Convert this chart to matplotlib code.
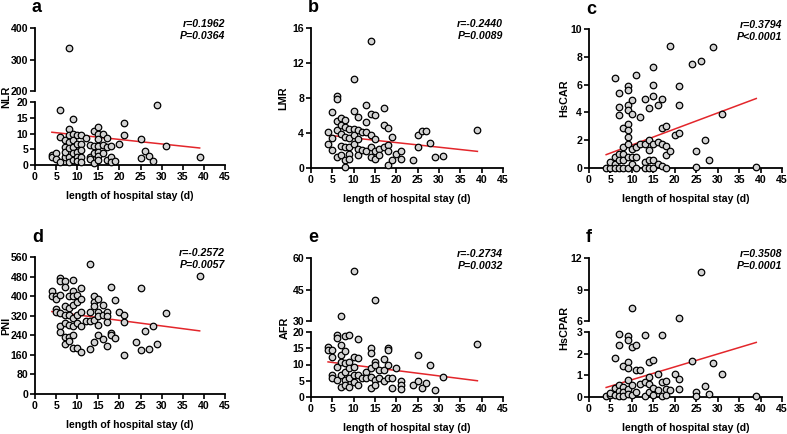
"""
Length of hospital stay vs inflammatory/nutritional indices (6 panels, GraphPad-like)
"""
import matplotlib

matplotlib.use('Agg')
import matplotlib.pyplot as plt

plt.rcParams['font.family'] = ['Liberation Sans', 'DejaVu Sans']
plt.rcParams['font.weight'] = 'bold'

W, H = 787, 434
DOT = '#d3d3d3'
RED = '#e3262b'
XTICKS = [0, 5, 10, 15, 20, 25, 30, 35, 40, 45]
XLABEL = 'length of hospital stay (d)'

# ---- data: (length of stay, index value) ----
NLR = [(4, 3.2), (4, 2.6), (5, 3.7), (5, 1.8), (6, 17.6), (6, 9), (6, 1), (7, 2.6), (7, 5.8), (7, 8),
       (7, 4.2), (8, 11.5), (8, 9.5), (8, 7.4), (8, 5.3), (8, 2.6), (8, 1), (8, 337), (9, 14.5), (9, 10),
       (9, 8), (9, 5.8), (9, 3.7), (9, 1.6), (10, 9.5), (10, 6.8), (10, 4.2), (10, 2.6), (10, 1.4),
       (11, 9.5), (11, 6.8), (11, 4.7), (11, 2.6), (11, 1), (12, 8.7), (13, 6.3), (13, 2.6), (13, 1.8),
       (14, 10.8), (14, 6), (14, 3.7), (14, 0.7), (15, 12.1), (15, 10), (15, 8.4), (15, 6), (15, 4.2),
       (15, 2.8), (15, 1.6), (16, 9.8), (16, 6.3), (16, 3.7), (17, 8.7), (17, 5.8), (17, 1.6), (18, 6),
       (18, 2.6), (18, 1), (19, 1.4), (20, 6.8), (21, 13.2), (21, 9.5), (25, 8.1), (25, 2.1), (26, 4.5),
       (27, 2.8), (28, 1.3), (29, 19.2), (31, 6), (39, 2.6)]
LMR = [(4, 4.1), (4, 2.7), (5, 6.4), (5, 3.4), (5, 2.1), (6, 8.2), (6, 7.9), (6, 5.4), (6, 4.3), (6, 1.3),
       (7, 5.7), (7, 4.9), (7, 3.9), (7, 2.5), (7, 1.5), (8, 5.5), (8, 4.7), (8, 3.6), (8, 2.4), (8, 0.9),
       (8, 0.1), (9, 4.5), (9, 3.4), (9, 2.4), (9, 1.6), (9, 1.0), (10, 10.2), (10, 6.5), (10, 4.5),
       (10, 3.8), (10, 2.8), (11, 5.8), (11, 4.3), (11, 3.3), (11, 2.2), (11, 1.5), (12, 4.1), (12, 2.1),
       (13, 7.2), (13, 5.3), (13, 4.1), (13, 2.0), (14, 14.5), (14, 6.2), (14, 3.8), (14, 2.4), (14, 1.3),
       (15, 6.1), (15, 3.3), (15, 2.0), (15, 1.0), (16, 2.2), (16, 1.5), (17, 6.9), (17, 4.9), (17, 2.4),
       (18, 4.6), (18, 2.6), (18, 2.0), (18, 0.4), (19, 3.6), (19, 0.9), (20, 1.6), (21, 2.0), (21, 1.0),
       (24, 0.9), (25, 3.8), (25, 2.4), (26, 4.2), (27, 4.2), (28, 2.9), (29, 1.3), (31, 1.4), (39, 4.3)]
HSCAR = [(4, 0), (5, 0), (5, 0.4), (6, 6.5), (6, 0.8), (6, 0.3), (6, 0), (7, 5.4), (7, 4.4), (7, 3.8),
         (7, 1.0), (7, 0.55), (7, 0), (8, 2.85), (8, 1.5), (8, 1.0), (8, 0.55), (8, 0), (9, 5.9), (9, 5.6),
         (9, 4.5), (9, 4.2), (9, 3.2), (9, 2.7), (9, 2.2), (9, 1.75), (9, 0.8), (9, 0), (10, 4.9), (10, 3.9),
         (10, 1.4), (10, 0.8), (10, 0.3), (11, 6.7), (11, 1.5), (11, 0.8), (11, 0), (12, 3.7), (12, 1.7),
         (13, 5.0), (13, 1.7), (13, 0.4), (13, 0), (14, 4.3), (14, 2.0), (14, 1.3), (14, 0.55), (14, 0),
         (15, 7.3), (15, 6.0), (15, 5.2), (15, 1.7), (15, 0.6), (15, 0), (16, 4.5), (16, 1.9), (16, 0.3),
         (17, 5.0), (17, 2.9), (17, 1.7), (17, 0.15), (18, 3.0), (18, 1.6), (18, 0.9), (18, 0), (19, 8.8),
         (19, 1.2), (20, 2.4), (21, 5.9), (21, 4.5), (21, 2.5), (24, 7.5), (25, 1.2), (25, 0.07), (26, 7.7),
         (27, 2.0), (28, 0.6), (29, 8.7), (31, 3.9), (39, 0.07)]
PNI = [(4, 423), (4, 402), (5, 402), (5, 388), (5, 347), (5, 337), (6, 474), (6, 460), (6, 406), (6, 331),
       (6, 276), (6, 255), (7, 463), (7, 436), (7, 358), (7, 324), (7, 290), (7, 235), (7, 204), (8, 399),
       (8, 351), (8, 324), (8, 283), (8, 235), (8, 217), (9, 467), (9, 419), (9, 399), (9, 365), (9, 310),
       (9, 276), (9, 242), (9, 190), (10, 406), (10, 378), (10, 324), (10, 290), (10, 190), (11, 433),
       (11, 389), (11, 337), (11, 276), (11, 173), (12, 299), (13, 533), (13, 337), (13, 299), (13, 184),
       (14, 399), (14, 378), (14, 358), (14, 303), (14, 212), (15, 389), (15, 337), (15, 317), (15, 283),
       (15, 242), (16, 365), (16, 324), (16, 225), (17, 337), (17, 317), (17, 294), (17, 198), (18, 436),
       (18, 249), (18, 242), (19, 385), (19, 228), (20, 335), (21, 324), (21, 294), (21, 160), (24, 214),
       (25, 433), (25, 180), (26, 258), (27, 183), (28, 279), (29, 204), (31, 333), (39, 484)]
AFR = [(4, 15.3), (4, 14.5), (5, 14.5), (5, 12.4), (5, 6.9), (5, 5.9), (6, 19.0), (6, 18.3), (6, 9.3),
       (6, 5.2), (7, 32.6), (7, 16.1), (7, 13.0), (7, 10.9), (7, 6.7), (7, 3.1), (8, 18.7), (8, 14.2),
       (8, 10.4), (8, 7.8), (8, 5.2), (8, 3.6), (9, 19.2), (9, 10.9), (9, 8.8), (9, 5.7), (9, 3.1),
       (10, 53.6), (10, 12.4), (10, 9.3), (10, 6.9), (10, 4.7), (11, 17.8), (11, 11.9), (11, 6.7), (11, 3.6),
       (12, 5.7), (13, 7.8), (13, 5.7), (14, 15.0), (14, 13.5), (14, 8.8), (14, 6.2), (14, 2.8), (15, 40),
       (15, 10.9), (15, 9.8), (15, 5.2), (15, 3.6), (16, 8.3), (16, 5.7), (17, 11.6), (17, 8.3), (17, 5.0),
       (18, 15.2), (18, 14.5), (18, 9.8), (18, 5.7), (19, 5.9), (19, 2.8), (20, 8.8), (21, 5.0), (21, 3.6),
       (21, 2.6), (24, 3.8), (25, 13.0), (25, 5.0), (26, 2.8), (27, 4.4), (28, 9.8), (29, 2.1), (31, 6.2),
       (39, 16.4)]
HSCPAR = [(4, 0.03), (5, 0.08), (5, 0.2), (6, 1.82), (6, 0.42), (6, 0.08), (7, 2.9), (7, 2.4), (7, 0.57),
          (7, 0.3), (7, 0.03), (8, 1.45), (8, 0.47), (8, 0.23), (8, 0.03), (9, 2.8), (9, 2.65), (9, 1.6),
          (9, 1.35), (9, 0.78), (9, 0.39), (9, 0.16), (10, 7.26), (10, 2.29), (10, 0.54), (10, 0.08),
          (11, 2.4), (11, 1.24), (11, 0.23), (12, 1.24), (12, 0.62), (13, 2.85), (13, 0.7), (13, 0.03),
          (14, 1.6), (14, 0.93), (14, 0.62), (14, 0.23), (15, 1.71), (15, 0.42), (15, 0.08), (16, 1.04),
          (16, 0.31), (17, 2.85), (17, 0.7), (17, 0.03), (18, 0.73), (18, 0.39), (18, 0.08), (19, 0.31),
          (20, 1.04), (21, 6.3), (21, 0.82), (21, 0.36), (24, 1.67), (25, 0.23), (25, 0.03), (26, 10.67),
          (27, 0.51), (28, 0.16), (29, 1.59), (31, 1.04), (39, 0.03)]

# regression line end points (x, y)
FIT_NLR = [(4, 10.4), (39, 5.4)]
FIT_LMR = [(4, 3.75), (39, 1.9)]
FIT_HSCAR = [(4, 0.96), (39, 5.0)]
FIT_PNI = [(4, 337), (39, 258)]
FIT_AFR = [(4, 10.8), (39, 5.0)]
FIT_HSCPAR = [(4, 0.44), (39, 2.52)]

STATS = {'a': ('r=0.1962', 'P=0.0364'), 'b': ('r=-0.2440', 'P=0.0089'), 'c': ('r=0.3794', 'P<0.0001'),
         'd': ('r=-0.2572', 'P=0.0057'), 'e': ('r=-0.2734', 'P=0.0032'), 'f': ('r=0.3508', 'P=0.0001')}

fig = plt.figure(figsize=(W / 100, H / 100), dpi=100)


def pax(l, r, t, b):
    return fig.add_axes([l / W, 1 - b / H, (r - l) / W, (b - t) / H])


def style(ax, xaxis=True):
    ax.patch.set_alpha(0)
    for s in ['top', 'right']:
        ax.spines[s].set_visible(False)
    ax.spines['left'].set_linewidth(1.3)
    ax.spines['bottom'].set_linewidth(1.3)
    ax.tick_params(direction='out', length=3.5, width=1.2, labelsize=7.6, pad=1.5)
    ax.set_xlim(0, 45)
    if xaxis:
        ax.set_xticks(XTICKS)
    else:
        ax.spines['bottom'].set_visible(False)
        ax.set_xticks([])


def dots(ax, pts, lo, hi):
    xs = [p[0] for p in pts if lo <= p[1] <= hi]
    ys = [p[1] for p in pts if lo <= p[1] <= hi]
    ax.scatter(xs, ys, s=22, c=DOT, edgecolors='black', linewidths=0.9, zorder=3, clip_on=False)


def panel(letter, pts, fit, ylabel, ylx, box, lower, lticks, upper=None, uticks=None, split=None):
    l, r, t, b = box
    if upper is None:
        ax = pax(l, r, t, b)
        style(ax)
        ax.set_ylim(*lower)
        ax.set_yticks(lticks)
        dots(ax, pts, lower[0], lower[1])
    else:
        u_bot, l_top = split
        au = pax(l, r, t, u_bot)
        style(au, xaxis=False)
        au.set_ylim(*upper)
        au.set_yticks(uticks)
        dots(au, pts, upper[0], upper[1])
        ax = pax(l, r, l_top, b)
        style(ax)
        ax.set_ylim(*lower)
        ax.set_yticks(lticks)
        dots(ax, pts, lower[0], lower[1])
    ax.plot([p[0] for p in fit], [p[1] for p in fit], color=RED, lw=1.1, zorder=2)
    # texts
    fig.text(ylx / W, 1 - ((t + b) / 2) / H, ylabel, rotation=90, ha='center', va='center', fontsize=7.8)
    fig.text((l + r) / 2 / W, 1 - (b + 31) / H, XLABEL, ha='center', va='center', fontsize=7.6)
    fig.text((l - 3) / W, 1 - (t - 20) / H, letter, ha='left', va='center', fontsize=13)
    r1, r2 = STATS[letter]
    fig.text(r / W, 1 - (t - 4) / H, r1, ha='right', va='center', fontsize=7.6, style='italic')
    fig.text(r / W, 1 - (t + 8) / H, r2, ha='right', va='center', fontsize=7.6, style='italic')


panel('a', NLR, FIT_NLR, 'NLR', 6, (35, 225, 28, 165), (0, 20), [0, 5, 10, 15, 20],
      upper=(200, 400), uticks=[200, 300, 400], split=(91, 102))
panel('b', LMR, FIT_LMR, 'LMR', 283, (311, 503, 28, 168), (0, 16), [0, 4, 8, 12, 16])
panel('c', HSCAR, FIT_HSCAR, 'HsCAR', 564, (589, 782, 29, 168), (0, 10), [0, 2, 4, 6, 8, 10])
panel('d', PNI, FIT_PNI, 'PNI', 6, (35, 225, 257, 394), (0, 560), [0, 80, 160, 240, 320, 400, 480, 560])
panel('e', AFR, FIT_AFR, 'AFR', 285, (311, 503, 258, 397), (0, 20), [0, 5, 10, 15, 20],
      upper=(30, 60), uticks=[30, 45, 60], split=(321, 332))
panel('f', HSCPAR, FIT_HSCPAR, 'HsCPAR', 564, (589, 782, 258, 397), (0, 3), [0, 1, 2, 3],
      upper=(6, 12), uticks=[6, 9, 12], split=(321, 332))

plt.savefig('out.png', dpi=100)
plt.close()
